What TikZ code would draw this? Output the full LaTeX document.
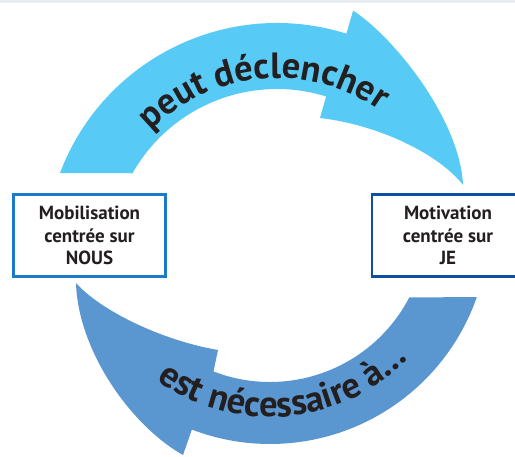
\documentclass[tikz,border=0pt]{standalone}
\usepackage{fontspec}
\setmainfont{PT Sans}
\usetikzlibrary{calc,decorations.text}

\definecolor{topblue}{HTML}{57CBF5}
\definecolor{lowblue}{HTML}{5A96D0}
\definecolor{nousblue}{HTML}{1C7BC8}
\definecolor{jeblue}{HTML}{0D4FA3}
\definecolor{inkgray}{HTML}{231F20}
\definecolor{stripgray}{HTML}{E9EDF1}
\newcommand\arcfont{\fontsize{36.5}{40}\selectfont\bfseries}

\begin{document}
\begin{tikzpicture}[
    x=1pt, y=1pt,
    box/.style={rectangle, draw, line width=2.8pt, fill=white, minimum width=152pt, minimum height=82pt, align=center, text=inkgray, font=\bfseries\fontsize{19}{22.5}\selectfont},
    arctext/.style={decorate, decoration={text along path, text align=center, text color=inkgray}}
]
\useasboundingbox (0,0) rectangle (515,456);
\clip (0,0) rectangle (515,456);
\fill[stripgray] (0,453) rectangle (515,456);

\coordinate (ct) at (277,201);
\coordinate (cb) at (270,231);

% upper arrow
\fill[topblue] ($(ct)+(159.3:232)$) arc[start angle=159.3, end angle=72.6, radius=232]
    -- ($(ct)+(72.7:256)$)
    .. controls (395,418) and (460,336) .. (463,271)
    .. controls (440,301) and (380,331) .. (320,338)
    -- ($(ct)+(72.8:166)$) arc[start angle=72.8, end angle=150.5, radius=166] -- cycle;

% lower arrow
\fill[lowblue] ($(cb)+(-19.2:219)$) arc[start angle=-19.2, end angle=-110.9, radius=219]
    -- (183,1)
    .. controls (130,31) and (78,106) .. (76,173)
    .. controls (100,146) and (160,116) .. (218,106)
    -- ($(cb)+(-111.1:157)$) arc[start angle=-111.1, end angle=-27.5, radius=157] -- cycle;

\path[arctext, decoration={text={|\arcfont|peut déclencher}}]
    ($(ct)+(150:177)$) arc[start angle=150, end angle=40, radius=177];
\path[arctext, decoration={text={|\arcfont|est nécessaire à…}}]
    ($(cb)+(215:192)$) arc[start angle=215, end angle=335, radius=192];

\node[box, draw=nousblue] (nous) at (89.5,220.5) {Mobilisation\\centrée sur\\NOUS};
\node[box, draw=jeblue] (je) at (448,220.5) {Motivation\\centrée sur\\JE};

\end{tikzpicture}
\end{document}
